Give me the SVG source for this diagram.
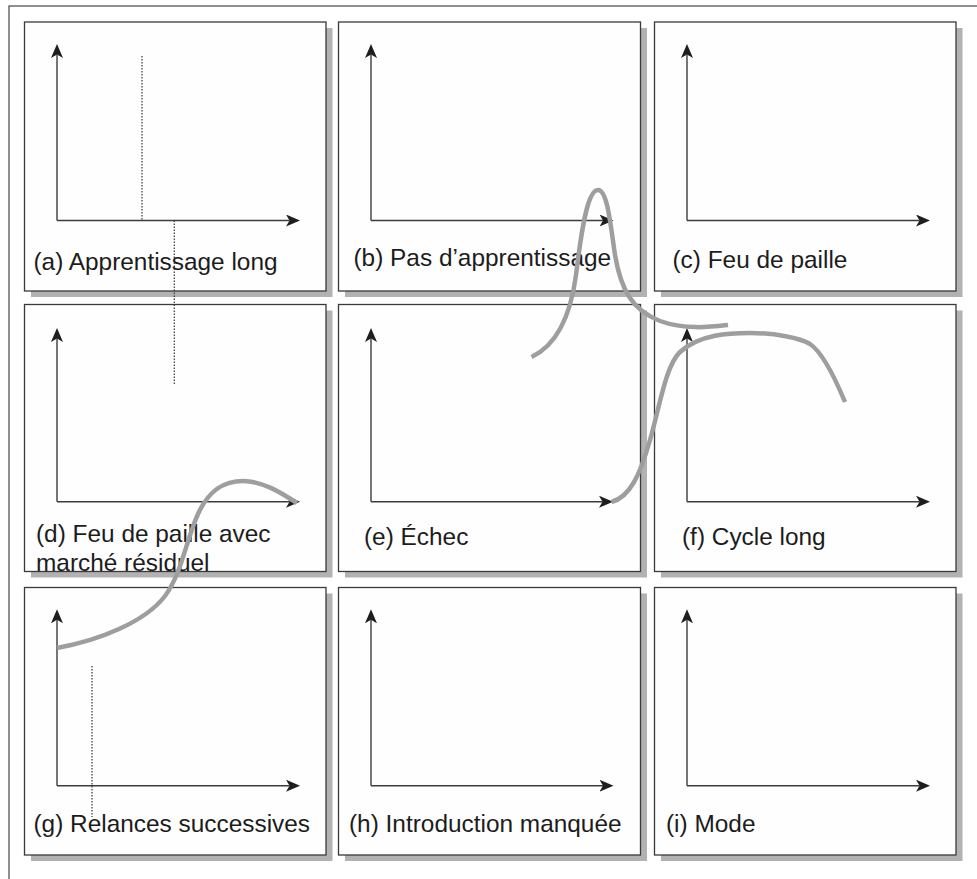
<svg xmlns="http://www.w3.org/2000/svg" width="977" height="879" viewBox="0 0 977 879">
  <style>
    .shadow { fill: #b2b2b2; stroke: none; }
    .panel { fill: #fefefe; stroke: #3a3a3a; stroke-width: 1.3; }
    .axis { fill: none; stroke: #3c3c3c; stroke-width: 1.4; marker-end: url(#arr); }
    .label { font-family: "Liberation Sans", Arial, sans-serif; font-size: 24.4px; fill: #1c1c1c; }
    .curve { fill: none; stroke: #9e9e9e; stroke-width: 4.5; stroke-linecap: butt; }
    .dots { fill: none; stroke: #333; stroke-width: 1.2; stroke-dasharray: 1.5 1.5; }
    .frame { fill: none; stroke: #555; stroke-width: 1.3; }
  </style>
  <defs>
    <marker id="arr" viewBox="0 0 14 12" markerWidth="14" markerHeight="12" refX="3.5" refY="6" orient="auto" markerUnits="userSpaceOnUse">
      <path d="M14,6 L0,0 L3.5,6 L0,12 Z" fill="#1e1e1e"/>
    </marker>
  </defs>
  <rect width="977" height="879" fill="#ffffff"/>
  <rect class="frame" x="9" y="6" width="1000" height="1000"/>

  <g id="panel-a">
    <rect class="shadow" x="31" y="28" width="301.5" height="269"/>
    <rect class="panel" x="24.5" y="22" width="301.5" height="269"/>
    <path class="axis" d="M57,220.5 V54.5"/>
    <path class="axis" d="M57,220.5 H289.5"/>
    <text class="label" x="33.5" y="270">(a) Apprentissage long</text>
  </g>
  <g id="panel-b">
    <rect class="shadow" x="345" y="28" width="302" height="269"/>
    <rect class="panel" x="338.5" y="22" width="302" height="269"/>
    <path class="axis" d="M371,220.5 V54.5"/>
    <path class="axis" d="M371,220.5 H603"/>
    <text class="label" x="353.5" y="265.5">(b) Pas d’apprentissage</text>
  </g>
  <g id="panel-c">
    <rect class="shadow" x="661" y="28" width="301.5" height="269"/>
    <rect class="panel" x="654.5" y="22" width="301.5" height="269"/>
    <path class="axis" d="M687,220.5 V54.5"/>
    <path class="axis" d="M687,220.5 H919.5"/>
    <text class="label" x="672.5" y="268">(c) Feu de paille</text>
  </g>

  <g id="panel-d">
    <rect class="shadow" x="31" y="310.5" width="301.5" height="267"/>
    <rect class="panel" x="24.5" y="304.5" width="301.5" height="267"/>
    <path class="axis" d="M57,501.7 V338.5"/>
    <path class="axis" d="M57,501.7 H289.5"/>
    <text class="label" x="36" y="542.3">(d) Feu de paille avec</text>
    <text class="label" x="36" y="570.7">marché résiduel</text>
  </g>
  <g id="panel-e">
    <rect class="shadow" x="345" y="310.5" width="302" height="267"/>
    <rect class="panel" x="338.5" y="304.5" width="302" height="267"/>
    <path class="axis" d="M371,501.7 V338.5"/>
    <path class="axis" d="M371,501.7 H602.5"/>
    <text class="label" x="364" y="545">(e) Échec</text>
  </g>
  <g id="panel-f">
    <rect class="shadow" x="661" y="310.5" width="301.5" height="267"/>
    <rect class="panel" x="654.5" y="304.5" width="301.5" height="267"/>
    <path class="axis" d="M687,501.7 V338.5"/>
    <path class="axis" d="M687,501.7 H919.5"/>
    <text class="label" x="682" y="545">(f) Cycle long</text>
  </g>

  <g id="panel-g">
    <rect class="shadow" x="31" y="593.5" width="301.5" height="267.5"/>
    <rect class="panel" x="24.5" y="587.5" width="301.5" height="267.5"/>
    <path class="axis" d="M57,785.7 V619.8"/>
    <path class="axis" d="M57,785.7 H289.5"/>
    <text class="label" x="33.5" y="831.7">(g) Relances successives</text>
  </g>
  <g id="panel-h">
    <rect class="shadow" x="345" y="593.5" width="302" height="267.5"/>
    <rect class="panel" x="338.5" y="587.5" width="302" height="267.5"/>
    <path class="axis" d="M371,785.7 V619.8"/>
    <path class="axis" d="M371,785.7 H603"/>
    <text class="label" x="349" y="831.7">(h) Introduction manquée</text>
  </g>
  <g id="panel-i">
    <rect class="shadow" x="661" y="593.5" width="301.5" height="267.5"/>
    <rect class="panel" x="654.5" y="587.5" width="301.5" height="267.5"/>
    <path class="axis" d="M687,785.7 V619.8"/>
    <path class="axis" d="M687,785.7 H919.5"/>
    <text class="label" x="666" y="831.7">(i) Mode</text>
  </g>

  <g id="guides">
    <path class="dots" d="M142,56 V220.5"/>
    <path class="dots" d="M174.3,220.5 V385"/>
    <path class="dots" d="M92,666 V817"/>
  </g>

  <g id="connectors">
    <path class="curve" d="M531.5,357 C555,346 570,320 576,275 C582,225 588,190 598,190 C607,190 610,220 615,255 C621,290 632,310 660,321 C685,330 710,327 728,325"/>
    <path class="curve" d="M611.5,502 C630,497 640,475 650,440 C660,405 666,365 680,352 C700,334 730,333 750,333 C775,333 800,338 810,344 C822,352 835,378 845,402"/>
    <path class="curve" d="M57,648 C100,640 145,622 165,596 C182,573 186,540 198,514 C208,492 222,481 243,481 C262,481 280,492 297,503"/>
  </g>
</svg>
